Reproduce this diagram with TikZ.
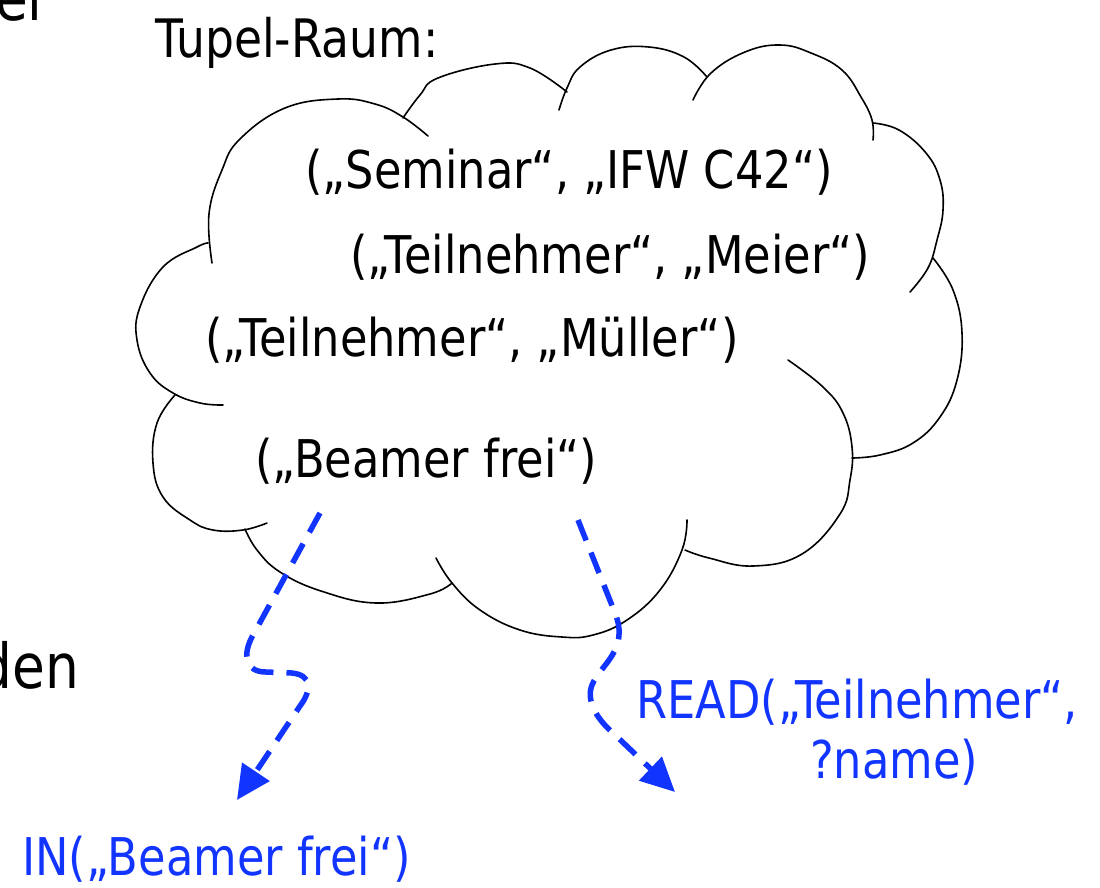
\documentclass[tikz,border=0pt]{standalone}
\usepackage{fontspec}
\setmainfont{DejaVu Sans}[FakeStretch=0.86]
\usetikzlibrary{arrows.meta}
\definecolor{dblue}{RGB}{18,52,255}
\tikzset{
  tx/.style={anchor=base west, inner sep=0pt, font=\fontsize{#1}{#1}\selectfont},
  btx/.style={tx=#1, text=dblue},
  lobe/.style={line width=1.6pt, line join=round, line cap=round},
  flow/.style={dblue, line width=5.5pt, dash pattern=on 22pt off 13pt,
    -{Triangle[length=34pt,width=32pt]}},
}
\begin{document}
\begin{tikzpicture}[x=1pt,y=-1pt]
\useasboundingbox (0,0) rectangle (1100,887);
% cut-off words at the left edge
\node[anchor=base east, inner sep=0pt, font=\fontsize{62}{62}\selectfont] (el) at (43,20) {el};
\node[anchor=base east, inner sep=0pt, font=\fontsize{62}{62}\selectfont] (den) at (79,688) {den};
% title
\node[tx=53] (title) at (155,57) {Tupel-Raum:};
% cloud lobes
\draw[lobe] plot[smooth, tension=0.7] coordinates {(212,263) (209,214) (222,170) (240,139) (285,108) (338,99) (375,104) (403,117) (428,136)};
\draw[lobe] plot[smooth, tension=0.7] coordinates {(403,118) (420,95) (438,78) (495,64) (530,68) (567,92)};
\draw[lobe] plot[smooth, tension=0.7] coordinates {(559,110) (567,88) (580,67) (611,50) (649,47) (684,57) (707,77)};
\draw[lobe] plot[smooth, tension=0.7] coordinates {(693,100) (711,73) (745,52) (780,45) (811,53) (842,70) (861,97) (872,120) (873,140)};
\draw[lobe] plot[smooth, tension=0.7] coordinates {(873,123) (899,130) (926,153) (940,180) (943,210) (937,240) (928,268) (910,292)};
\draw[lobe] plot[smooth, tension=0.7] coordinates {(933,258) (953,290) (962,333) (957,380) (940,417) (913,443) (880,455) (852,458)};
\draw[lobe] plot[smooth, tension=0.7] coordinates {(788,360) (823,387) (843,413) (852,447) (850,480) (840,514) (802,554) (753,566) (709,558) (685,550)};
\draw[lobe] plot[smooth, tension=0.7] coordinates {(436,558) (452,583) (480,610) (520,630) (562,637) (593,635) (627,620) (660,590) (682,550) (687,520)};
\draw[lobe] plot[smooth, tension=0.7] coordinates {(245,529) (257,550) (280,572) (321,591) (376,603) (430,594) (452,583)};
\draw[lobe] plot[smooth, tension=0.7] coordinates {(175,395) (157,423) (153,463) (163,497) (190,520) (213,530) (243,530) (267,523)};
\draw[lobe] plot[smooth, tension=0.7] coordinates {(208,243) (197,247) (163,267) (140,307) (137,340) (150,373) (173,393) (200,403) (223,405)};
% tuples
\node[tx=52] (t1) at (305,188) {(„Seminar“, „IFW C42“)};
\node[tx=52] (t2) at (350,273) {(„Teilnehmer“, „Meier“)};
\node[tx=52] (t3) at (205,356) {(„Teilnehmer“, „Müller“)};
\node[tx=52] (t4) at (255,477) {(„Beamer frei“)};
% operations
\node[btx=52] (in) at (22,875) {IN(„Beamer frei“)};
\node[btx=52] (read1) at (636,718) {READ(„Teilnehmer“,};
\node[btx=52] (read2) at (810,778) {?name)};
% arrows
\coordinate (a1) at (320,513);
\coordinate (a2) at (237,800);
\coordinate (b1) at (578,520);
\coordinate (b2) at (675,792);
\draw[flow] (a1) -- (252,637) .. controls (242,656) and (246,672) .. (266,672)
  -- (292,673) .. controls (312,675) and (312,690) .. (300,706) -- (a2);
\draw[flow] (b1) -- (615,613) .. controls (630,650) and (600,665) .. (592,685)
  .. controls (586,700) and (596,718) .. (612,732) -- (b2);
\end{tikzpicture}
\end{document}
